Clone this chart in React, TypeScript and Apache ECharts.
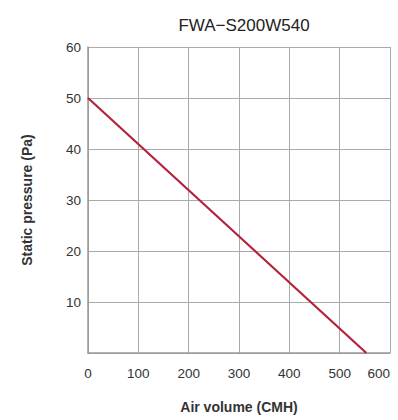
import React, { useEffect, useRef } from "react";
import * as echarts from "echarts";

const title = "FWA\u2212S200W540";
const airVolume = [0, 553];
const staticPressure = [50, 0];
const xTicks = [0, 100, 200, 300, 400, 500, 600];
const yTicks = [10, 20, 30, 40, 50, 60];

export default function App() {
  const ref = useRef<HTMLDivElement>(null);
  useEffect(() => {
    const chart = echarts.init(ref.current!, null, { renderer: "svg" });
    const font = "'Liberation Sans', Arial, Helvetica, sans-serif";
    chart.setOption({
      animation: false,
      textStyle: { fontFamily: font },
      title: {
        text: title,
        left: 239,
        top: 12,
        textAlign: "center",
        textStyle: { fontSize: 17, fontWeight: "normal", color: "#222", fontFamily: font },
      },
      grid: { left: 88, right: 8, top: 47, bottom: 67, containLabel: false, outerBoundsMode: "none" },
      xAxis: {
        type: "value",
        min: 0,
        max: 600,
        interval: 100,
        name: "Air volume (CMH)",
        nameLocation: "middle",
        nameGap: 47,
        nameTextStyle: { fontSize: 14, fontWeight: "bold", color: "#333", fontFamily: font },
        axisLine: { show: true, lineStyle: { color: "#999", width: 1.5 } },
        axisTick: { show: false },
        axisLabel: {
          fontSize: 13.5,
          color: "#333",
          margin: 13,
          alignMaxLabel: "right",
          fontFamily: font,
          formatter: (v: number) => (xTicks.includes(v) ? String(v) : ""),
        },
        splitLine: { show: true, lineStyle: { color: "#aaa", width: 1 } },
      },
      yAxis: {
        type: "value",
        min: 0,
        max: 60,
        interval: 10,
        name: "Static pressure (Pa)",
        nameLocation: "middle",
        nameGap: 54,
        nameTextStyle: { fontSize: 14, fontWeight: "bold", color: "#333", fontFamily: font },
        axisLine: { show: true, lineStyle: { color: "#999", width: 1.5 } },
        axisTick: { show: false },
        axisLabel: {
          fontSize: 13.5,
          color: "#333",
          margin: 7,
          fontFamily: font,
          formatter: (v: number) => (yTicks.includes(v) ? String(v) : ""),
        },
        splitLine: { show: true, lineStyle: { color: "#aaa", width: 1 } },
      },
      series: [
        {
          type: "line",
          data: airVolume.map((x, i) => [x, staticPressure[i]]),
          symbol: "none",
          lineStyle: { color: "#b5203c", width: 2.2 },
        },
      ],
    });
    return () => chart.dispose();
  }, []);
  return <div ref={ref} style={{ width: 398, height: 420, position: "absolute", left: 0, top: 0 }} />;
}
